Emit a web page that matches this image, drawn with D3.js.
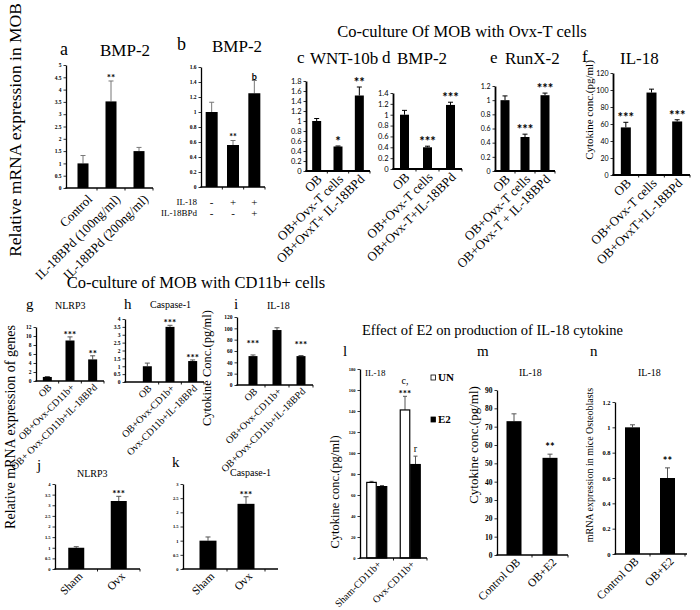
<!DOCTYPE html>
<html><head><meta charset="utf-8">
<script src="https://cdn.jsdelivr.net/npm/d3@7"></script>
<style>body{margin:0;background:#fff}</style>
</head><body>
<svg id="c" width="700" height="610"></svg>
<script>
// ---------- DATA ----------
const aCats = ["Control", "IL-18BPd (100ng/ml)", "IL-18BPd (200ng/ml)"];
const aVals = [1.0, 3.52, 1.5];
const aErrs = [0.32, 0.83, 0.15];
const aSig = ["", "**", ""];
const aTicks = [0, 0.5, 1, 1.5, 2, 2.5, 3, 3.5, 4, 4.5, 5];

const bCats = ["IL18-", "IL18+", "IL18+BPd+"];
const bIL18Row = ["-", "+", "+"];
const bBPdRow = ["-", "-", "+"];
const bVals = [1.0, 0.56, 1.25];
const bErrs = [0.13, 0.06, 0.17];
const bSig = ["", "**", "b"];
const bTicks = [0, 0.2, 0.4, 0.6, 0.8, 1, 1.2, 1.4, 1.6];

const cCats = ["OB", "OB+Ovx-T cells", "OB+OvxT+ IL-18BPd"];
const cVals = [1.0, 0.49, 1.51];
const cErrs = [0.05, 0.01, 0.17];
const cSig = ["", "*", "**"];
const cTicks = [0, 0.2, 0.4, 0.6, 0.8, 1, 1.2, 1.4, 1.6, 1.8];

const dCats = ["OB", "OB+Ovx-T cells", "OB+Ovx-T+IL-18BPd"];
const dVals = [1.0, 0.40, 1.18];
const dErrs = [0.08, 0.02, 0.05];
const dSig = ["", "***", "***"];
const dTicks = [0, 0.2, 0.4, 0.6, 0.8, 1, 1.2, 1.4];

const eCats = ["OB", "OB+Ovx-T cells", "OB+Ovx-T + IL-18BPd"];
const eVals = [1.0, 0.48, 1.07];
const eErrs = [0.06, 0.04, 0.03];
const eSig = ["", "***", "***"];
const eTicks = [0, 0.2, 0.4, 0.6, 0.8, 1, 1.2];

const fCats = ["OB", "OB+Ovx-T cells", "OB+OvxT+IL-18BPd"];
const fVals = [56, 97, 63];
const fErrs = [6, 4, 2];
const fSig = ["***", "", "***"];
const fTicks = [0, 20, 40, 60, 80, 100, 120];

const gCats = ["OB", "OB+Ovx-CD11b+", "OB+ Ovx-CD11b+IL-18BPd"];
const gVals = [0.9, 9.0, 4.8];
const gErrs = [0.1, 0.8, 0.8];
const gSig = ["", "***", "**"];
const gTicks = [0, 2, 4, 6, 8, 10, 12];

const hCats = ["OB", "OB+Ovx-CD1b+", "Ovx-CD11b+IL-18BPd"];
const hVals = [1.0, 3.5, 1.33];
const hErrs = [0.2, 0.1, 0.07];
const hSig = ["", "***", "***"];
const hTicks = [0, 0.5, 1, 1.5, 2, 2.5, 3, 3.5, 4];

const iCats = ["OB", "OB+Ovx-CD11b+", "OB+Ovx-CD11b+IL-18BPd"];
const iVals = [51, 97, 51];
const iErrs = [2, 4, 1];
const iSig = ["***", "", "***"];
const iTicks = [0, 20, 40, 60, 80, 100, 120];

const jCats = ["Sham", "Ovx"];
const jVals = [1.0, 3.2];
const jErrs = [0.05, 0.22];
const jSig = ["", "***"];
const jTicks = [0, 0.5, 1, 1.5, 2, 2.5, 3, 3.5, 4];

const kCats = ["Sham", "Ovx"];
const kVals = [1.0, 2.3];
const kErrs = [0.13, 0.25];
const kSig = ["", "***"];
const kTicks = [0, 0.5, 1, 1.5, 2, 2.5, 3];

const lGroups = ["Sham-CD11b+", "Ovx-CD11b+"];
const lSeries = ["UN", "E2"];
const lUNVals = [72, 141];
const lUNErrs = [1, 13];
const lE2Vals = [68, 89];
const lE2Errs = [1, 8];
const lUNSig = ["", "***"];
const lUNSig2 = ["", "c,"];
const lE2Sig = ["", "r"];
const lTicks = [0, 20, 40, 60, 80, 100, 120, 140, 160, 180];

const mCats = ["Control OB", "OB+E2"];
const mVals = [73, 53];
const mErrs = [4, 2];
const mSig = ["", "**"];
const mTicks = [0, 10, 20, 30, 40, 50, 60, 70, 80, 90];

const nCats = ["Control OB", "OB+E2"];
const nVals = [1.0, 0.60];
const nErrs = [0.02, 0.08];
const nSig = ["", "**"];
const nTicks = [0, 0.2, 0.4, 0.6, 0.8, 1, 1.2];

// ---------- DRAWING ----------
const svg = d3.select("#c");
const SERIF = "'Liberation Serif','Times New Roman',serif";
const SANS = "Lato,'Liberation Sans',sans-serif";

function txt(x, y, s, size, opts = {}) {
  const t = svg.append("text").attr("x", x).attr("y", y).text(s)
    .attr("font-family", opts.font || SERIF).attr("font-size", size)
    .attr("fill", "#000");
  if (opts.anchor) t.attr("text-anchor", opts.anchor);
  if (opts.weight) t.attr("font-weight", opts.weight);
  if (opts.rot) t.attr("transform", `rotate(${opts.rot},${x},${y})`);
  return t;
}

function axes(g, o, y, x) {
  const ya = d3.axisLeft(y).tickValues(o.ticks).tickSize(o.tickLen || 2.5).tickSizeOuter(0).tickFormat(d => d);
  const yg = g.append("g").attr("transform", `translate(${o.ax},0)`).call(ya);
  yg.attr("font-family", o.tickFont || SERIF).attr("font-size", o.tickSize || 5.5)
    .attr("font-weight", o.tickWeight || "bold");
  yg.selectAll("text").attr("x", -(o.tickLen || 2.5) - 2);
  yg.select(".domain").attr("stroke", "#000").attr("stroke-width", o.axW || 1.3);
  yg.selectAll(".tick line").attr("stroke", "#000").attr("stroke-width", 0.8);
  g.append("line").attr("x1", o.ax - 0.6).attr("x2", o.axEnd).attr("y1", y(0)).attr("y2", y(0))
    .attr("stroke", "#000").attr("stroke-width", o.axW || 1.3);
  const n = x.domain().length;
  const x0 = x.range()[0], step = x.step();
  const bounds = d3.range(1, n + 1).map(i => x0 + i * step);
  g.selectAll("line.xt").data(bounds).join("line").attr("class", "xt")
    .attr("x1", d => Math.min(d, o.axEnd)).attr("x2", d => Math.min(d, o.axEnd))
    .attr("y1", y(0)).attr("y2", y(0) + 2.5).attr("stroke", "#000").attr("stroke-width", 0.9);
}

function barPanel(o) {
  const g = svg.append("g");
  const y = d3.scaleLinear().domain([0, o.yMax]).range([o.yBot, o.yTop]);
  const x = d3.scaleBand().domain(o.cats).range([o.bx0 ?? o.ax, o.bx1 ?? o.axEnd]);
  const cx = c => x(c) + x.bandwidth() / 2;
  g.selectAll("g.err").data(o.cats).join("g").each(function (c, i) {
    const e = d3.select(this);
    const top = y(o.vals[i] + o.errs[i]);
    e.append("line").attr("x1", cx(c)).attr("x2", cx(c)).attr("y1", y(o.vals[i])).attr("y2", top)
      .attr("stroke", o.errColor || "#333").attr("stroke-width", 1);
    e.append("line").attr("x1", cx(c) - (o.cap || 2.5)).attr("x2", cx(c) + (o.cap || 2.5)).attr("y1", top).attr("y2", top)
      .attr("stroke", o.errColor || "#333").attr("stroke-width", 1);
  });
  g.selectAll("rect.bar").data(o.cats).join("rect").attr("class", "bar")
    .attr("x", c => cx(c) - o.barW / 2)
    .attr("y", (c, i) => y(o.vals[i]))
    .attr("width", o.barW)
    .attr("height", (c, i) => y(0) - y(o.vals[i]))
    .attr("fill", "#000");
  axes(g, o, y, x);
  g.selectAll("text.sig").data(o.cats).join("text").attr("class", "sig")
    .attr("x", c => cx(c)).attr("y", (c, i) => y(o.vals[i] + o.errs[i]) - (o.sigGap ?? 1))
    .attr("text-anchor", "middle").attr("font-family", o.sigFont || SANS)
    .attr("font-size", o.sigSize || 11).attr("font-weight", "bold")
    .text((c, i) => o.sig[i]);
  if (o.labelSize) {
    g.selectAll("text.cat").data(o.cats).join("text").attr("class", "cat")
      .attr("transform", c => `translate(${cx(c) + o.ldx},${y(0) + o.ldy}) rotate(-45)`)
      .attr("text-anchor", "end").attr("font-family", SERIF).attr("font-size", o.labelSize)
      .text(c => c);
  }
  return { x, y, cx };
}

// ===== Top block =====
txt(15, 130, "Relative mRNA expression in MOB", 17.5, { anchor: "middle", rot: -90 }).attr("dy", "0.35em");
txt(462, 37, "Co-culture Of MOB with Ovx-T cells", 16.5, { anchor: "middle" });

// a
txt(60, 55, "a", 18);
txt(100, 56, "BMP-2", 17);
barPanel({ cats: aCats, vals: aVals, errs: aErrs, sig: aSig, ticks: aTicks, yMax: 5,
  ax: 66, axEnd: 153, bx0: 69, yTop: 65, yBot: 188, barW: 11, labelSize: 13, ldx: 10, ldy: 12,
  sigSize: 10, sigGap: 0, errColor: "#777" });

// b
txt(177, 50, "b", 18);
txt(212, 52, "BMP-2", 17);
const pb = barPanel({ cats: bCats, vals: bVals, errs: bErrs, sig: bSig, ticks: bTicks, yMax: 1.6,
  ax: 201, axEnd: 265, yTop: 67, yBot: 187, barW: 12, sigSize: 9, sigGap: 1, errColor: "#777" });
txt(197, 205, "IL-18", 9, { anchor: "end" });
txt(197, 216, "IL-18BPd", 9, { anchor: "end" });
bCats.forEach((c, i) => {
  txt(pb.cx(c), 206, bIL18Row[i], 11, { anchor: "middle" });
  txt(pb.cx(c), 217, bBPdRow[i], 11, { anchor: "middle" });
});

// c-f
txt(297, 63, "c", 17);
txt(310, 64, "WNT-10b", 17);
barPanel({ cats: cCats, vals: cVals, errs: cErrs, sig: cSig, ticks: cTicks, yMax: 1.8,
  ax: 306, axEnd: 370, yTop: 81, yBot: 171, barW: 9, labelSize: 13, ldx: 6, ldy: 9,
  tickFont: SANS, tickSize: 7.5, tickWeight: "normal", axW: 1.8, sigSize: 13, sigGap: 0, errColor: "#000" });
txt(382, 63, "d", 17);
txt(397, 64, "BMP-2", 17);
barPanel({ cats: dCats, vals: dVals, errs: dErrs, sig: dSig, ticks: dTicks, yMax: 1.4,
  ax: 393, axEnd: 462, yTop: 93, yBot: 169, barW: 9, labelSize: 13, ldx: 6, ldy: 9,
  tickFont: SANS, tickSize: 7.5, tickWeight: "normal", axW: 1.8, sigSize: 13, sigGap: 0, errColor: "#000" });
txt(490, 63, "e", 17);
txt(505, 64, "RunX-2", 17);
barPanel({ cats: eCats, vals: eVals, errs: eErrs, sig: eSig, ticks: eTicks, yMax: 1.2,
  ax: 495, axEnd: 555, yTop: 86, yBot: 171, barW: 9, labelSize: 13, ldx: 6, ldy: 9,
  tickFont: SANS, tickSize: 7, tickWeight: "normal", axW: 1.8, sigSize: 13, sigGap: 0, errColor: "#000" });
txt(582, 62, "f", 17);
txt(620, 64, "IL-18", 17);
barPanel({ cats: fCats, vals: fVals, errs: fErrs, sig: fSig, ticks: fTicks, yMax: 120,
  ax: 613, axEnd: 690, yTop: 73, yBot: 175, barW: 10, labelSize: 13, ldx: 6, ldy: 9,
  tickFont: SANS, tickSize: 7, tickWeight: "normal", axW: 1.8, sigSize: 13, sigGap: 0, errColor: "#000" });
txt(589, 110, "Cytokine conc.(pg/ml)", 11, { anchor: "middle", rot: -90 }).attr("dy", "0.35em");

// ===== Middle block: CD11b+ =====
txt(196, 288, "Co-culture of MOB with CD11b+ cells", 16.5, { anchor: "middle" });
txt(10, 427, "Relative mRNA expression of genes", 14, { anchor: "middle", rot: -90 }).attr("dy", "0.35em");

txt(26, 309, "g", 15);
txt(55, 309, "NLRP3", 10);
barPanel({ cats: gCats, vals: gVals, errs: gErrs, sig: gSig, ticks: gTicks, yMax: 12,
  ax: 36, axEnd: 104, yTop: 327, yBot: 381, barW: 9, labelSize: 10, ldx: 5, ldy: 7,
  sigSize: 10, sigGap: -1, errColor: "#555" });
txt(124, 309, "h", 15);
txt(150, 308, "Caspase-1", 10);
barPanel({ cats: hCats, vals: hVals, errs: hErrs, sig: hSig, ticks: hTicks, yMax: 4,
  ax: 125, axEnd: 204, bx0: 136, yTop: 319, yBot: 382, barW: 9, labelSize: 10, ldx: 5, ldy: 7,
  sigSize: 10, sigGap: -1, errColor: "#555" });
txt(234, 309, "i", 15);
txt(267, 309, "IL-18", 10);
barPanel({ cats: iCats, vals: iVals, errs: iErrs, sig: iSig, ticks: iTicks, yMax: 120,
  ax: 237, axEnd: 313, bx0: 241, yTop: 317, yBot: 385, barW: 9, labelSize: 10, ldx: 5, ldy: 7,
  sigSize: 10, sigGap: 8, errColor: "#555" });
txt(207, 368, "Cytokine Conc.(pg/ml)", 12.5, { anchor: "middle", rot: -90 }).attr("dy", "0.35em");

txt(37, 470, "j", 15);
txt(77, 477, "NLRP3", 10);
barPanel({ cats: jCats, vals: jVals, errs: jErrs, sig: jSig, ticks: jTicks, yMax: 4,
  ax: 55, axEnd: 140, yTop: 484, yBot: 569, barW: 16, labelSize: 11.5, ldx: 7, ldy: 8,
  sigSize: 10, sigGap: -1, errColor: "#555", tickSize: 4.5 });
txt(172, 467, "k", 15);
txt(230, 476, "Caspase-1", 10);
barPanel({ cats: kCats, vals: kVals, errs: kErrs, sig: kSig, ticks: kTicks, yMax: 3,
  ax: 183, axEnd: 278, bx0: 189, bx1: 265, yTop: 484, yBot: 569, barW: 17, labelSize: 11.5, ldx: 7, ldy: 8,
  sigSize: 10, sigGap: -1, errColor: "#555", tickSize: 4.5 });

// ===== Bottom right: Effect of E2 =====
txt(362, 335, "Effect of E2 on production of IL-18 cytokine", 14.5);

// l (grouped)
txt(343, 356, "l", 15);
txt(365, 376, "IL-18", 9);
(function () {
  const o = { ax: 360, axEnd: 427, yTop: 369, yBot: 558, ticks: lTicks, tickSize: 4.5 };
  const g = svg.append("g");
  const y = d3.scaleLinear().domain([0, 180]).range([o.yBot, o.yTop]);
  const x = d3.scaleBand().domain(lGroups).range([o.ax, o.axEnd]);
  const xs = d3.scaleBand().domain(lSeries).range([0, 21]);
  const off = (x.bandwidth() - 21) / 2;
  const series = [
    { key: "UN", vals: lUNVals, errs: lUNErrs, fill: "#fff" },
    { key: "E2", vals: lE2Vals, errs: lE2Errs, fill: "#000" }
  ];
  series.forEach(s => {
    lGroups.forEach((grp, i) => {
      const bx = x(grp) + off + xs(s.key);
      const w = xs.bandwidth();
      const top = y(s.vals[i] + s.errs[i]);
      g.append("line").attr("x1", bx + w / 2).attr("x2", bx + w / 2).attr("y1", y(s.vals[i])).attr("y2", top)
        .attr("stroke", "#555").attr("stroke-width", 1);
      g.append("line").attr("x1", bx + w / 2 - 2).attr("x2", bx + w / 2 + 2).attr("y1", top).attr("y2", top)
        .attr("stroke", "#555").attr("stroke-width", 1);
      g.append("rect").attr("x", bx + 0.5).attr("y", y(s.vals[i])).attr("width", w - 1)
        .attr("height", y(0) - y(s.vals[i])).attr("fill", s.fill).attr("stroke", "#000").attr("stroke-width", 1.2);
    });
  });
  axes(g, o, y, x);
  lGroups.forEach((grp, i) => {
    const cxU = x(grp) + off + xs("UN") + xs.bandwidth() / 2;
    const cxE = x(grp) + off + xs("E2") + xs.bandwidth() / 2;
    const tU = y(lUNVals[i] + lUNErrs[i]);
    const tE = y(lE2Vals[i] + lE2Errs[i]);
    txt(cxU, tU + 1, lUNSig[i], 10, { anchor: "middle", weight: "bold", font: SANS });
    txt(cxU, tU - 12, lUNSig2[i], 10, { anchor: "middle" });
    txt(cxE, tE - 4, lE2Sig[i], 10, { anchor: "middle" });
    g.append("text").attr("transform", `translate(${x(grp) + x.bandwidth() / 2 + 5},${o.yBot + 7}) rotate(-45)`)
      .attr("text-anchor", "end").attr("font-family", SERIF).attr("font-size", 10).text(grp);
  });
  lSeries.forEach((s, i) => {
    const ly = i === 0 ? 379 : 421;
    g.append("rect").attr("x", 431).attr("y", ly - 4).attr("width", 4.5).attr("height", 5)
      .attr("fill", s === "UN" ? "#fff" : "#000").attr("stroke", "#000").attr("stroke-width", 0.8);
    txt(438, ly + 2, s, 11, { weight: "bold" });
  });
})();
txt(335, 492, "Cytokine conc.(pg/ml)", 12.5, { anchor: "middle", rot: -90 }).attr("dy", "0.35em");

// m
txt(477, 356, "m", 15);
txt(519, 376, "IL-18", 10);
barPanel({ cats: mCats, vals: mVals, errs: mErrs, sig: mSig, ticks: mTicks, yMax: 90,
  ax: 497, axEnd: 568, bx0: 496, yTop: 390, yBot: 555, barW: 15, labelSize: 11.5, ldx: 7, ldy: 8,
  sigSize: 11, sigGap: 3, errColor: "#555", tickSize: 7.5 });
txt(473, 445, "Cytokine conc.(pg/ml)", 13, { anchor: "middle", rot: -90 }).attr("dy", "0.35em");

// n
txt(590, 356, "n", 15);
txt(638, 376, "IL-18", 10);
barPanel({ cats: nCats, vals: nVals, errs: nErrs, sig: nSig, ticks: nTicks, yMax: 1.2,
  ax: 615, axEnd: 687, bx1: 685, yTop: 402, yBot: 554, barW: 15, labelSize: 11.5, ldx: 7, ldy: 8,
  sigSize: 11, sigGap: 3, errColor: "#555", tickSize: 6.5 });
txt(589, 465, "mRNA expression in mice Osteoblasts", 10, { anchor: "middle", rot: -90 }).attr("dy", "0.35em");
</script>
</body></html>
